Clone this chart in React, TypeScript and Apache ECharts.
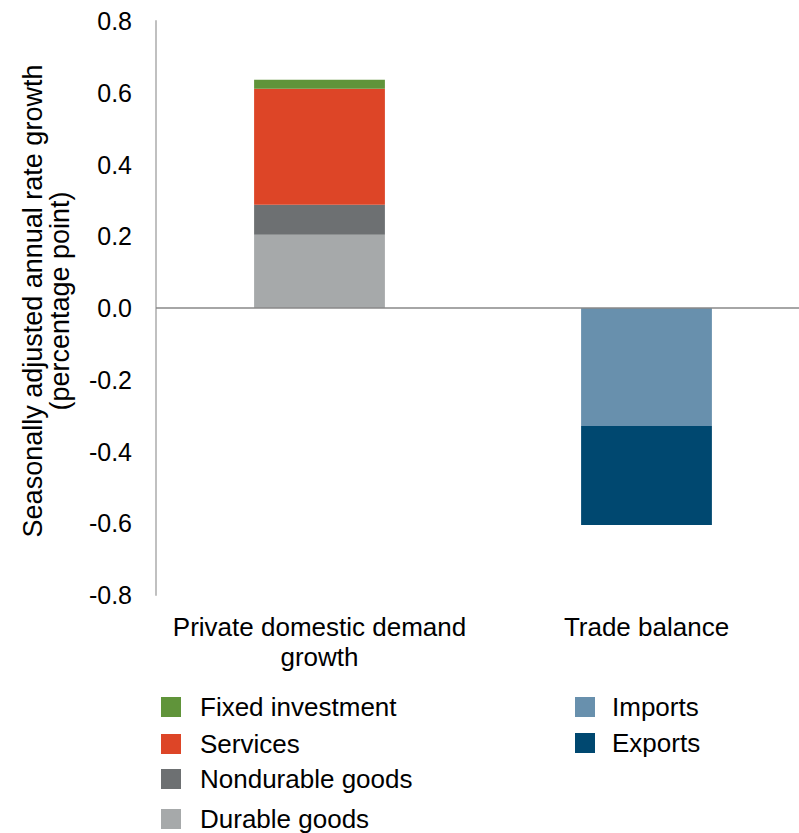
import React, { useEffect, useRef } from "react";
import * as echarts from "echarts";

const categories = ["Private domestic demand\ngrowth", "Trade balance"];
const durableGoods = [0.204, null];
const nondurableGoods = [0.084, null];
const services = [0.323, null];
const fixedInvestment = [0.025, null];
const imports = [null, -0.329];
const exportsData = [null, -0.276];

const seriesDefs = [
  { name: "Durable goods", data: durableGoods, color: "#a6a9aa" },
  { name: "Nondurable goods", data: nondurableGoods, color: "#6d7072" },
  { name: "Services", data: services, color: "#dd4527" },
  { name: "Fixed investment", data: fixedInvestment, color: "#60943a" },
  { name: "Imports", data: imports, color: "#6890ad" },
  { name: "Exports", data: exportsData, color: "#004870" },
];

const legendLayout = [
  { name: "Fixed investment", left: 161, cy: 707, pad: 14 },
  { name: "Services", left: 161, cy: 744, pad: 14 },
  { name: "Nondurable goods", left: 161, cy: 779, pad: 14 },
  { name: "Durable goods", left: 161, cy: 819, pad: 14 },
  { name: "Imports", left: 575, cy: 707, pad: 12 },
  { name: "Exports", left: 575, cy: 743, pad: 12 },
];

const FONT = "Liberation Sans, Arial, sans-serif";

export default function App() {
  const ref = useRef<HTMLDivElement>(null);
  useEffect(() => {
    document.body.style.margin = "0";
    document.body.style.overflow = "hidden";
    document.documentElement.style.overflow = "hidden";
    if (!ref.current) return;
    const chart = echarts.init(ref.current, null, { renderer: "svg" });
    chart.setOption({
      animation: false,
      textStyle: { fontFamily: FONT },
      grid: { left: 156, right: 0, top: 21, bottom: 238, containLabel: false },
      legend: legendLayout.map((l) => ({
        data: [l.name],
        left: l.left,
        top: l.cy - 13,
        orient: "vertical",
        padding: 0,
        itemWidth: 20,
        itemHeight: 20,
        icon: "rect",
        selectedMode: false,
        textStyle: {
          fontFamily: FONT,
          fontSize: 26,
          lineHeight: 26,
          color: "#000",
          padding: [0, 0, 0, l.pad],
        },
      })),
      graphic: [
        {
          type: "text",
          x: 46,
          y: 301,
          rotation: Math.PI / 2,
          style: {
            text: "Seasonally adjusted annual rate growth\n(percentage point)",
            fontFamily: FONT,
            fontSize: 27,
            lineHeight: 27,
            fill: "#000",
            align: "center",
            verticalAlign: "middle",
          },
        },
      ],
      xAxis: {
        type: "category",
        data: categories,
        axisLine: { show: false, onZero: false },
        axisTick: { show: false },
        axisLabel: {
          fontFamily: FONT,
          fontSize: 26,
          color: "#000",
          lineHeight: 30,
          margin: 17,
          interval: 0,
        },
      },
      yAxis: {
        type: "value",
        min: -0.8,
        max: 0.8,
        interval: 0.2,
        axisLine: { show: true, lineStyle: { color: "#c0c0c0", width: 2 } },
        axisTick: { show: false },
        splitLine: { show: false },
        axisLabel: {
          fontFamily: FONT,
          fontSize: 25,
          color: "#000",
          margin: 24,
          formatter: (v: number) => v.toFixed(1),
        },
      },
      series: seriesDefs.map((s, i) => ({
        name: s.name,
        type: "bar",
        stack: "total",
        barWidth: "40%",
        data: s.data,
        itemStyle: { color: s.color },
        ...(i === 0
          ? {
              markLine: {
                silent: true,
                symbol: "none",
                label: { show: false },
                lineStyle: { color: "#898989", width: 1.5, type: "solid" },
                data: [{ yAxis: 0 }],
              },
            }
          : {}),
      })),
    });
    return () => chart.dispose();
  }, []);
  return (
    <div style={{ width: 799, height: 833, overflow: "hidden" }}>
      <div ref={ref} style={{ width: 810, height: 833 }} />
    </div>
  );
}
